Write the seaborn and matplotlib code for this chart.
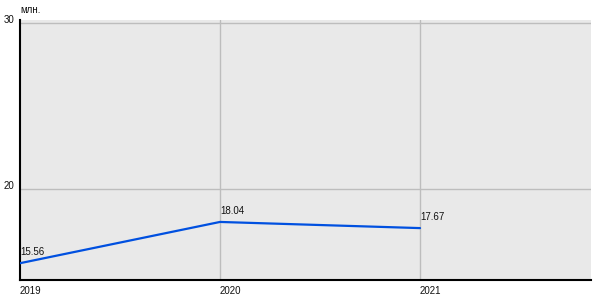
import matplotlib
matplotlib.use("Agg")
import matplotlib.pyplot as plt
import seaborn as sns
import pandas as pd

years = [2019, 2020, 2021]
values = [15.56, 18.04, 17.67]
value_labels = ["15.56", "18.04", "17.67"]
y_ticks = [20, 30]
unit_label = "млн."

sns.set_style("white")
plt.rcParams['font.family'] = ['Liberation Sans', 'DejaVu Sans']

df = pd.DataFrame({"year": years, "value": values})

fig = plt.figure(figsize=(6, 3), dpi=100)
ax = fig.add_axes([20/600, 20/300, 571/600, 260/300])
ax.set_facecolor("#E9E9E9")

for yt in y_ticks:
    ax.axhline(yt, color="#BDBDBD", lw=1, zorder=1)
for x in years[1:]:
    ax.axvline(x, color="#BDBDBD", lw=1, zorder=1)

sns.lineplot(data=df, x="year", y="value", ax=ax, color="#0050E0", lw=1.6, zorder=3)

for x, y, t in zip(years, values, value_labels):
    ax.annotate(t, (x, y), xytext=(0, 4.5), textcoords="offset points",
                ha="left", va="bottom", fontsize=7, color="#111111")

ax.set_xlim(2019, 2021.855)
ax.set_ylim(14.55, 30.18)
ax.set_xticks(years)
ax.set_xticklabels([str(y) for y in years], fontsize=7, ha="left", color="#111111")
ax.set_yticks(y_ticks)
ax.set_yticklabels([str(t) for t in y_ticks], fontsize=7, va="center", color="#111111")
for lab in ax.get_yticklabels():
    lab.set_y(lab.get_position()[1])
ax.tick_params(axis="x", length=0, pad=4)
ax.tick_params(axis="y", length=3, width=1, pad=1, color="black", direction="out")
# shift y tick labels slightly up
import matplotlib.transforms as mtransforms
offset = mtransforms.ScaledTranslation(0, 3/100, fig.dpi_scale_trans)
for lab in ax.get_yticklabels():
    lab.set_transform(lab.get_transform() + offset)
ax.set_xlabel("")
ax.set_ylabel("")
for s in ["top", "right"]:
    ax.spines[s].set_visible(False)
for s in ["left", "bottom"]:
    ax.spines[s].set_color("black")
    ax.spines[s].set_linewidth(1.5)

fig.text(20/600, 1 - 10/300, unit_label, fontsize=7, ha="left", va="center", color="#111111")

fig.savefig("out.png", dpi=100, facecolor="white")
